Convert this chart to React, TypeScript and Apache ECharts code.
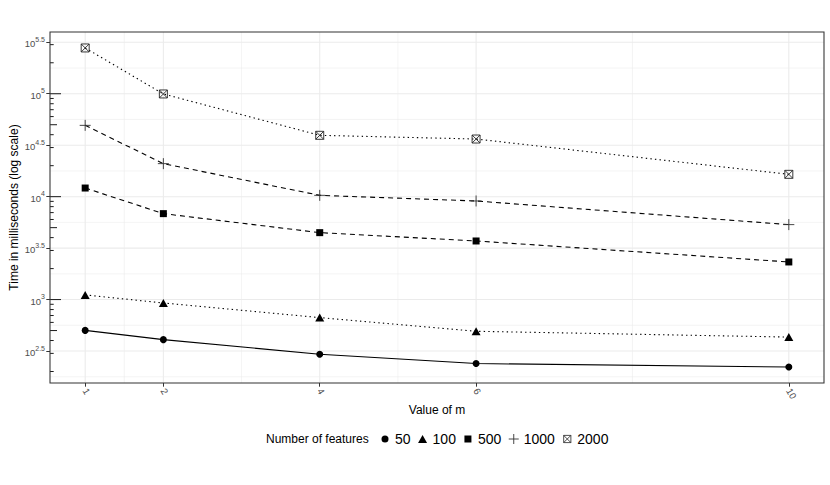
import { useEffect, useRef } from "react";
import * as echarts from "echarts";

// ---- data (milliseconds) ----
const mValues = [1, 2, 4, 6, 10];
const featureCounts = ["50", "100", "500", "1000", "2000"];
const time50 = [502, 408, 294, 239, 221];
const time100 = [1109, 927, 668, 492, 432];
const time500 = [12130, 6840, 4470, 3710, 2320];
const time1000 = [49300, 20940, 10300, 9080, 5350];
const time2000 = [278600, 99540, 39450, 36310, 16480];

// ---- axis breaks ----
const xBreaks = [1, 2, 4, 6, 10];
const xMinorBreaks = [1.5, 3, 5, 8];
const yBreaks = [2.5, 3, 3.5, 4, 4.5, 5, 5.5]; // exponents of 10
const yMinorBreaks = [2.25, 2.75, 3.25, 3.75, 4.25, 4.75, 5.25];
const logTickDecades = [2, 3, 4, 5];
const logTickMultipliers = [1, 2, 3, 4, 5, 6, 7, 8, 9];

const FONT = "'Liberation Sans', Arial, Helvetica, sans-serif";

const allTimes = [time50, time100, time500, time1000, time2000];

export default function App() {
  const ref = useRef<HTMLDivElement>(null);

  useEffect(() => {
    if (!ref.current) return;
    const chart = echarts.init(ref.current, undefined, { renderer: "svg" });

    // ggplot-like 5% expansion
    const logs = allTimes.flat().map((v) => Math.log10(v));
    const yMinD = Math.min(...logs);
    const yMaxD = Math.max(...logs);
    const yLo = yMinD - 0.05 * (yMaxD - yMinD);
    const yHi = yMaxD + 0.05 * (yMaxD - yMinD);
    const xMinD = Math.min(...mValues);
    const xMaxD = Math.max(...mValues);
    const xLo = xMinD - 0.05 * (xMaxD - xMinD);
    const xHi = xMaxD + 0.05 * (xMaxD - xMinD);

    const gridData: number[][] = [
      ...xMinorBreaks.map((v) => [v, yLo, 1, 0]),
      ...yMinorBreaks.map((v) => [xLo, v, 0, 0]),
      ...xBreaks.map((v) => [v, yLo, 1, 1]),
      ...yBreaks.map((v) => [xLo, v, 0, 1]),
    ];

    const logTickData: number[][] = [];
    logTickDecades.forEach((n) =>
      logTickMultipliers.forEach((k) => {
        const lv = Math.log10(k * Math.pow(10, n));
        if (lv >= yLo && lv <= yHi) logTickData.push([xLo, lv, k]);
      })
    );

    const styles = [
      { symbol: "circle", symbolSize: 7, dash: "solid" as any, fill: "#000", stroke: "#000", bw: 0 },
      { symbol: "triangle", symbolSize: [9, 8], dash: [1.4, 3.2], fill: "#000", stroke: "#000", bw: 0 },
      { symbol: "rect", symbolSize: 7, dash: [5, 4], fill: "#000", stroke: "#000", bw: 0 },
      { symbol: "path://M5,0L5,10M0,5L10,5", symbolSize: 11, dash: [5, 4], fill: "rgba(0,0,0,0)", stroke: "#333", bw: 0.9 },
      {
        symbol: "path://M0,0L10,0L10,10L0,10ZM0,0L10,10M10,0L0,10",
        symbolSize: 8,
        dash: [1.4, 3.2],
        fill: "rgba(0,0,0,0)",
        stroke: "#222",
        bw: 0.9,
      },
    ];

    const legendIcons = [
      "path://M0,0M10,10M8.5,5A3.5,3.5,0,1,1,1.5,5A3.5,3.5,0,1,1,8.5,5Z",
      "path://M0,0M10,10M5,1.1L9.5,8.9L0.5,8.9Z",
      "path://M0,0M10,10M1.5,1.5L8.5,1.5L8.5,8.5L1.5,8.5Z",
      "path://M5,0L5,10M0,5L10,5",
      "path://M0,0M10,10M1.4,1.4L8.6,1.4L8.6,8.6L1.4,8.6ZM1.4,1.4L8.6,8.6M8.6,1.4L1.4,8.6",
    ];

    const lineSeries = featureCounts.map((name, i) => ({
      name,
      type: "line",
      data: mValues.map((m, j) => [m, Math.log10(allTimes[i][j])]),
      symbol: styles[i].symbol,
      symbolSize: styles[i].symbolSize,
      showSymbol: true,
      lineStyle: { color: "#000", width: 1.1, type: styles[i].dash },
      itemStyle: { color: styles[i].fill, borderColor: styles[i].stroke, borderWidth: styles[i].bw },
      z: 5,
      silent: true,
    }));

    chart.setOption({
      animation: false,
      backgroundColor: "#fff",
      grid: { left: 47, right: 6, top: 32, bottom: 102, show: false },
      xAxis: {
        type: "value",
        min: xLo,
        max: xHi,
        name: "Value of m",
        nameLocation: "middle",
        nameGap: 21,
        nameMoveOverlap: false,
        nameTextStyle: { fontSize: 12, color: "#000", fontFamily: FONT },
        axisLine: { show: false },
        axisTick: { show: true, customValues: xBreaks, length: 3.7, lineStyle: { color: "#333", width: 1 } },
        axisLabel: {
          customValues: xBreaks,
          rotate: -60,
          margin: 6,
          fontSize: 9.5,
          color: "#4D4D4D",
          fontFamily: FONT,
        },
        splitLine: { show: false },
      },
      yAxis: {
        type: "value",
        min: yLo,
        max: yHi,
        name: "Time in milliseconds (log scale)",
        nameLocation: "middle",
        nameGap: 30,
        nameMoveOverlap: false,
        nameTextStyle: { fontSize: 12, color: "#000", fontFamily: FONT },
        axisLine: { show: false },
        axisTick: { show: true, customValues: yBreaks, length: 3.7, lineStyle: { color: "#333", width: 1 } },
        axisLabel: {
          customValues: yBreaks,
          margin: 5,
          color: "#4D4D4D",
          fontFamily: FONT,
          formatter: (v: number) => `{b|10}{s|${v}}`,
          rich: {
            b: { fontSize: 9.5, lineHeight: 13, verticalAlign: "bottom", color: "#4D4D4D", fontFamily: FONT },
            s: { fontSize: 7, lineHeight: 13, verticalAlign: "top", color: "#4D4D4D", fontFamily: FONT },
          },
        },
        splitLine: { show: false },
      },
      legend: {
        left: 380,
        top: 432,
        padding: 0,
        itemWidth: 10,
        itemHeight: 10,
        itemGap: 7,
        selectedMode: false,
        textStyle: { fontSize: 14, color: "#000", fontFamily: FONT, lineHeight: 14 },
        data: featureCounts.map((name, i) => ({
          name,
          icon: legendIcons[i],
          itemStyle: {
            color: styles[i].fill,
            borderColor: styles[i].stroke,
            borderWidth: i === 4 ? 0.8 : styles[i].bw,
            borderType: "solid",
          },
        })),
      },
      graphic: [
        {
          type: "text",
          x: 266,
          y: 439,
          style: {
            text: "Number of features",
            fill: "#000",
            fontSize: 12,
            fontFamily: FONT,
            align: "left",
            verticalAlign: "middle",
          },
        },
      ],
      series: [
        {
          name: "gridlines",
          type: "custom",
          silent: true,
          z: 1,
          data: gridData,
          renderItem: (params: any, api: any) => {
            const cs = params.coordSys;
            const p = api.coord([api.value(0), api.value(1)]);
            const major = api.value(3) === 1;
            const style = { stroke: "#EBEBEB", lineWidth: major ? 1.07 : 0.53 };
            if (api.value(2) === 1) {
              return { type: "line", shape: { x1: p[0], y1: cs.y, x2: p[0], y2: cs.y + cs.height }, style };
            }
            return { type: "line", shape: { x1: cs.x, y1: p[1], x2: cs.x + cs.width, y2: p[1] }, style };
          },
        },
        {
          name: "logticks",
          type: "custom",
          silent: true,
          z: 3,
          data: logTickData,
          renderItem: (params: any, api: any) => {
            const cs = params.coordSys;
            const p = api.coord([api.value(0), api.value(1)]);
            const k = api.value(2);
            const len = k === 1 ? 11 : k === 5 ? 7 : 3.7;
            return {
              type: "line",
              shape: { x1: cs.x, y1: p[1], x2: cs.x + len, y2: p[1] },
              style: { stroke: "#000", lineWidth: 0.9 },
            };
          },
        },
        {
          name: "border",
          type: "custom",
          silent: true,
          z: 8,
          data: [[xLo, yLo]],
          renderItem: (params: any) => {
            const cs = params.coordSys;
            return {
              type: "rect",
              shape: { x: cs.x, y: cs.y, width: cs.width, height: cs.height },
              style: { fill: "none", stroke: "#333", lineWidth: 1.07 },
            };
          },
        },
        ...lineSeries,
      ],
    });

    return () => chart.dispose();
  }, []);

  return (
    <div
      ref={ref}
      style={{ position: "absolute", left: 0, top: 0, width: 830, height: 485, background: "#fff" }}
    />
  );
}
